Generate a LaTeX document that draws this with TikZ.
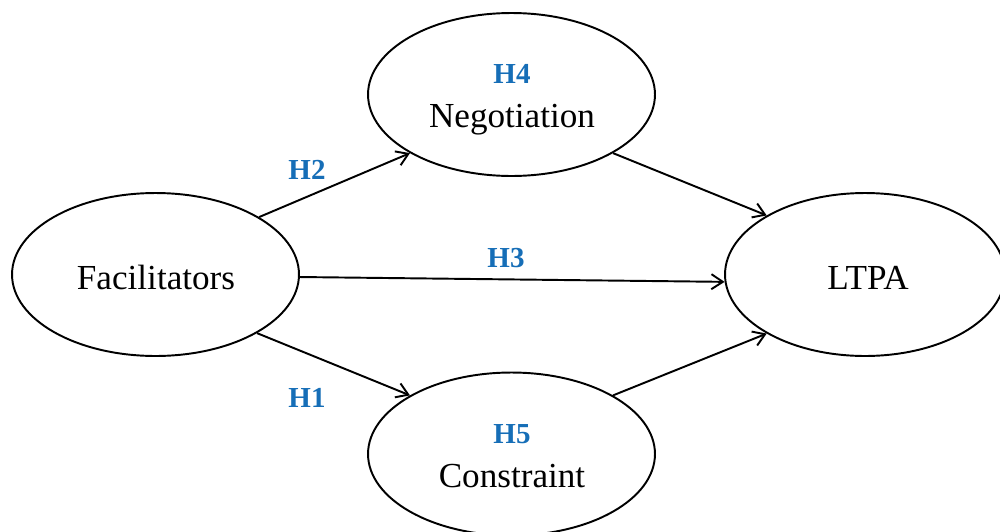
\documentclass[tikz,border=0pt]{standalone}
\usepackage{fontspec}
\setmainfont{Liberation Serif}
\usetikzlibrary{shapes.geometric,arrows.meta}
\definecolor{hblue}{RGB}{22,110,183}
\begin{document}
\begin{tikzpicture}[x=0.02cm,y=-0.02cm,
  oval/.style={ellipse,draw,line width=1.1pt,inner sep=0pt,
    minimum width=5.74cm,minimum height=3.26cm},
  txt/.style={anchor=base,inner sep=0pt,font=\fontsize{20pt}{25pt}\selectfont},
  hyp/.style={font=\fontsize{16.5pt}{20pt}\selectfont\bfseries,text=hblue,inner sep=0pt},
  conn/.style={line width=1.1pt,-{Straight Barb[length=2.3mm,width=3mm,line width=1.1pt]}}]
\useasboundingbox (0,0) rectangle (1000,531);
\node[oval] (fac) at (155.5,274.5) {};
\node[oval] (neg) at (511.5,94.5) {};
\node[oval] (con) at (511.5,454) {};
\node[oval,minimum width=5.6cm] (ltpa) at (865,274.5) {};
\node[txt] (fact) at (156,289) {Facilitators};
\node[txt] (negt) at (512,127) {Negotiation};
\node[txt] (cont) at (512,487) {Constraint};
\node[txt] (ltpat) at (868,289) {LTPA};
\node[hyp,anchor=base] (h4) at (512,83) {H4};
\node[hyp,anchor=base] (h5) at (512,443) {H5};
\draw[conn] (fac.29.5) -- (neg.210);
\draw[conn] (fac.330) -- (con.150);
\draw[conn] (fac.-1) -- (ltpa.183.5);
\draw[conn] (neg.330.5) -- (ltpa.149);
\draw[conn] (con.30) -- (ltpa.211);
\node[hyp] (h2) at (307,170) {H2};
\node[hyp] (h3) at (506,258) {H3};
\node[hyp] (h1) at (307,398) {H1};
\end{tikzpicture}
\end{document}
